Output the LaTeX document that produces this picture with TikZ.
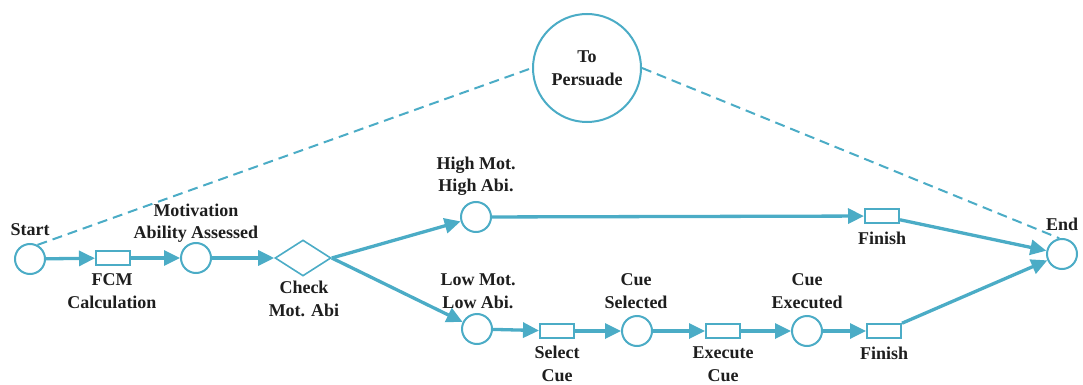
\documentclass[tikz,border=0pt]{standalone}
\usepackage{fontspec}
\setmainfont{Liberation Serif}[BoldFont={Liberation Serif Bold}]
\usetikzlibrary{arrows.meta,shapes.geometric}
\definecolor{pn}{HTML}{4BACC6}
\definecolor{txt}{HTML}{1E1E1E}
\tikzset{
  place/.style={circle,draw=pn,line width=2pt,minimum size=30pt,inner sep=0pt,fill=white},
  trans/.style={rectangle,draw=pn,line width=2pt,minimum width=34pt,minimum height=14pt,inner sep=0pt,fill=white},
  decide/.style={diamond,draw=pn,line width=1.6pt,minimum width=56pt,minimum height=36pt,inner sep=0pt,fill=white},
  goal/.style={circle,draw=pn,line width=2pt,minimum size=108pt,inner sep=0pt,fill=white},
  lbl/.style={text=txt,align=center,inner sep=0pt,font=\fontsize{18}{22.5}\selectfont\bfseries},
  flow/.style={draw=pn,line width=3.3pt,-{Triangle[length=16pt,width=15pt]}},
  link/.style={draw=pn,line width=2pt,dash pattern=on 10pt off 6pt}
}
\begin{document}
\begin{tikzpicture}[x=1pt,y=-1pt]
\useasboundingbox (0,0) rectangle (1083,385);
% dashed links behind
\node[goal] (pers) at (587,68) {};
\node[place] (start) at (30,259) {};
\node[place] (end) at (1062,254) {};
\draw[link] (start.62) -- (pers.west);
\draw[link] (pers.east) -- (end.100);
\node[lbl] at (587,68) (perslbl) {To\\Persuade};
% nodes
\node[trans] (fcm) at (113,258) {};
\node[place] (mot) at (196,258) {};
\node[decide] (check) at (303,258) {};
\node[place] (high) at (476,217) {};
\node[trans] (fin1) at (882,216) {};
\node[place] (low) at (477,329) {};
\node[trans] (sel) at (557,331) {};
\node[place] (cuesel) at (637,331) {};
\node[trans] (exe) at (723,331) {};
\node[place] (cueexe) at (807,331) {};
\node[trans] (fin2) at (884,331) {};
% labels
\node[lbl] (l1) at (30,230) {Start};
\node[lbl] (l2) at (196,223) {Motivation\\Ability Assessed};
\node[lbl] (l3) at (112,291) {FCM\\Calculation};
\node[lbl] (l4) at (304,299) {Check\\Mot. Abi};
\node[lbl] (l5) at (476,176) {High Mot.\\High Abi.};
\node[lbl] (l6) at (478,291) {Low Mot.\\Low Abi.};
\node[lbl] (l7) at (636,291) {Cue\\Selected};
\node[lbl] (l8) at (557,364) {Select\\Cue};
\node[lbl] (l9) at (723,364) {Execute\\Cue};
\node[lbl] (l10) at (807,291) {Cue\\Executed};
\node[lbl] (l11) at (882,238) {Finish};
\node[lbl] (l12) at (884,353) {Finish};
\node[lbl] (l13) at (1062,224) {End};
% flows
\draw[flow] (start) -- (fcm);
\draw[flow] (fcm) -- (mot);
\draw[flow] (mot) -- (check);
\draw[flow] (check.east) -- (high);
\draw[flow] (check.east) -- (low);
\draw[flow] (high) -- (fin1);
\draw[flow] (low) -- (sel);
\draw[flow] (sel) -- (cuesel);
\draw[flow] (cuesel) -- (exe);
\draw[flow] (exe) -- (cueexe);
\draw[flow] (cueexe) -- (fin2);
\draw[flow] (fin1) -- (end);
\draw[flow] (fin2) -- (end);
\end{tikzpicture}
\end{document}
